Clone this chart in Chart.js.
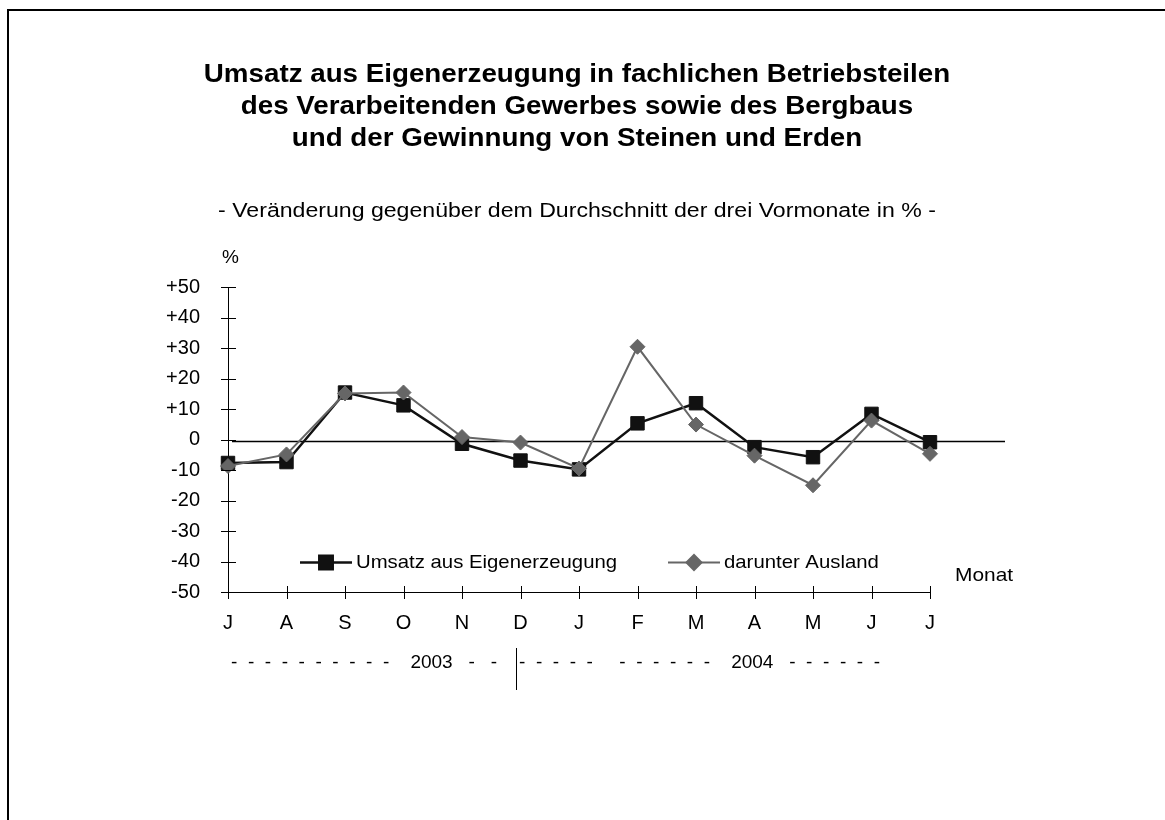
<!DOCTYPE html>
<html>
<head>
<meta charset="utf-8">
<script src="https://cdn.jsdelivr.net/npm/chart.js@4.4.0/dist/chart.umd.min.js"></script>
<style>
  html, body { margin: 0; padding: 0; background: #fff; }
  #wrap { width: 1165px; height: 820px; }
</style>
</head>
<body>
<div id="wrap"><canvas id="c" width="1165" height="820"></canvas></div>
<script>
// Daten
const months = ["J", "A", "S", "O", "N", "D", "J", "F", "M", "A", "M", "J", "J"];
const umsatz = [-7.7, -7.4, 15.4, 11.2, -1.4, -6.9, -9.8, 5.3, 11.9, -2.5, -5.8, 8.4, -0.9];
const ausland = [-8.7, -4.9, 15.1, 15.4, 0.8, -1.0, -9.5, 30.4, 4.9, -5.3, -15.0, 6.2, -4.7];
const yTicks = [50, 40, 30, 20, 10, 0, -10, -20, -30, -40, -50];
const seriesNames = ["Umsatz aus Eigenerzeugung", "darunter Ausland"];
const titleLines = [
  "Umsatz aus Eigenerzeugung in fachlichen Betriebsteilen",
  "des Verarbeitenden Gewerbes sowie des Bergbaus",
  "und der Gewinnung von Steinen und Erden",
];
const subtitle = "- Veränderung gegenüber dem Durchschnitt der drei Vormonate in % -";
const yearLabels = [
  "-  -  -  -  -  -  -  -  -  -    2003   -   -",
  "-  -  -  -  -     -  -  -  -  -  -    2004   -  -  -  -  -  -",
];

const FONT = "'Liberation Sans', Arial, sans-serif";

// gestreckter Text (Vorlage ist breiter gesetzt)
function wideText(ctx, s, x, y, sx, align) {
  ctx.save();
  ctx.translate(x, y);
  ctx.scale(sx, 1);
  ctx.textAlign = align;
  ctx.fillText(s, 0, 0);
  ctx.restore();
}

// Rahmen, Titel, Achsenmarken, Legende
const deco = {
  id: "deco",
  beforeDraw(chart) {
    const { ctx, width, height } = chart;
    ctx.save();
    ctx.fillStyle = "#fff";
    ctx.fillRect(0, 0, width, height);
    ctx.strokeStyle = "#000";
    ctx.lineWidth = 2;
    ctx.beginPath();
    ctx.moveTo(8, height + 5);
    ctx.lineTo(8, 10);
    ctx.lineTo(width + 5, 10);
    ctx.stroke();
    ctx.restore();
  },
  beforeDatasetsDraw(chart) {
    const { ctx, chartArea: { left }, scales: { y } } = chart;
    const y0 = Math.round(y.getPixelForValue(0)) + 1.5;
    ctx.save();
    ctx.strokeStyle = "#000";
    ctx.lineWidth = 1.5;
    ctx.beginPath();
    ctx.moveTo(left + 4, y0);
    ctx.lineTo(1005, y0);
    ctx.stroke();
    ctx.restore();
  },
  afterDraw(chart) {
    const { ctx, chartArea: { left, bottom }, scales: { x, y } } = chart;
    ctx.save();
    ctx.strokeStyle = "#000";
    ctx.lineWidth = 1;
    // Achsenmarken (kreuzend)
    y.ticks.forEach((t) => {
      const py = Math.round(y.getPixelForValue(t.value)) + 0.5;
      ctx.beginPath();
      ctx.moveTo(left - 7, py);
      ctx.lineTo(left + 8, py);
      ctx.stroke();
    });
    months.forEach((m, i) => {
      const px = Math.round(x.getPixelForValue(i)) + 0.5;
      ctx.beginPath();
      ctx.moveTo(px, bottom - 6);
      ctx.lineTo(px, bottom + 7);
      ctx.stroke();
    });

    // Titel
    ctx.fillStyle = "#000";
    ctx.textBaseline = "middle";
    ctx.font = "bold 25px " + FONT;
    titleLines.forEach((s, i) => wideText(ctx, s, 577, 75 + i * 32, 1.11, "center"));
    ctx.font = "20px " + FONT;
    wideText(ctx, subtitle, 577, 211, 1.155, "center");

    ctx.font = "19px " + FONT;
    wideText(ctx, "%", 222, 258, 1.0, "left");
    wideText(ctx, "Monat", 955, 576, 1.1, "left");

    // Jahre
    ctx.font = "19px " + FONT;
    ctx.fillText(yearLabels[0], 231, 663);
    ctx.fillText(yearLabels[1], 519, 663);
    ctx.beginPath();
    ctx.moveTo(516.5, 648);
    ctx.lineTo(516.5, 690);
    ctx.stroke();

    // Legende
    const items = [
      { x: 300, ds: chart.data.datasets[0] },
      { x: 668, ds: chart.data.datasets[1] },
    ];
    ctx.font = "19px " + FONT;
    items.forEach(({ x: lx, ds }) => {
      const ly = 562.5;
      ctx.strokeStyle = ds.borderColor;
      ctx.lineWidth = ds.borderWidth;
      ctx.beginPath();
      ctx.moveTo(lx, ly);
      ctx.lineTo(lx + 52, ly);
      ctx.stroke();
      Chart.helpers.drawPoint(ctx, {
        pointStyle: ds.pointStyle, radius: ds.pointRadius, borderWidth: 1, rotation: 0,
      }, lx + 26, ly);
      ctx.fillStyle = ds.pointBackgroundColor;
      ctx.strokeStyle = ds.pointBorderColor;
      ctx.lineWidth = 1;
      ctx.fill();
      ctx.stroke();
      ctx.fillStyle = "#000";
      wideText(ctx, ds.label, lx + 56, ly, 1.07, "left");
    });
    ctx.restore();
  },
};

new Chart(document.getElementById("c"), {
  type: "line",
  data: {
    labels: months,
    datasets: [
      {
        label: seriesNames[0],
        data: umsatz,
        order: 2,
        borderColor: "#111",
        borderWidth: 2.5,
        pointStyle: "rect",
        pointRadius: 9.5,
        pointBackgroundColor: "#111",
        pointBorderColor: "#111",
        pointBorderWidth: 1,
        tension: 0,
        clip: false,
      },
      {
        label: seriesNames[1],
        data: ausland,
        order: 1,
        borderColor: "#666",
        borderWidth: 2,
        pointStyle: "rectRot",
        pointRadius: 7.5,
        pointBackgroundColor: "#666",
        pointBorderColor: "#666",
        pointBorderWidth: 1,
        tension: 0,
        clip: false,
      },
    ],
  },
  options: {
    responsive: false,
    animation: false,
    devicePixelRatio: 1,
    layout: { padding: { left: 148, right: 235, top: 287, bottom: 168 } },
    plugins: { legend: { display: false }, tooltip: { enabled: false } },
    scales: {
      x: {
        offset: false,
        grid: { display: false, drawTicks: false },
        border: { display: true, color: "#000", width: 1 },
        ticks: { color: "#000", font: { family: FONT, size: 20 }, padding: 19, maxRotation: 0, autoSkip: false },
        afterFit: (s) => { s.height = 60; },
      },
      y: {
        min: -50,
        max: 50,
        afterBuildTicks: (s) => { s.ticks = yTicks.map((v) => ({ value: v })); },
        grid: { display: false, drawTicks: false },
        border: { display: true, color: "#000", width: 1 },
        ticks: {
          color: "#000",
          font: { family: FONT, size: 20 },
          padding: 28,
          callback: (v) => (v > 0 ? "+" + v : String(v)),
        },
        afterFit: (s) => { s.width = 80; },
      },
    },
  },
  plugins: [deco],
});
</script>
</body>
</html>
